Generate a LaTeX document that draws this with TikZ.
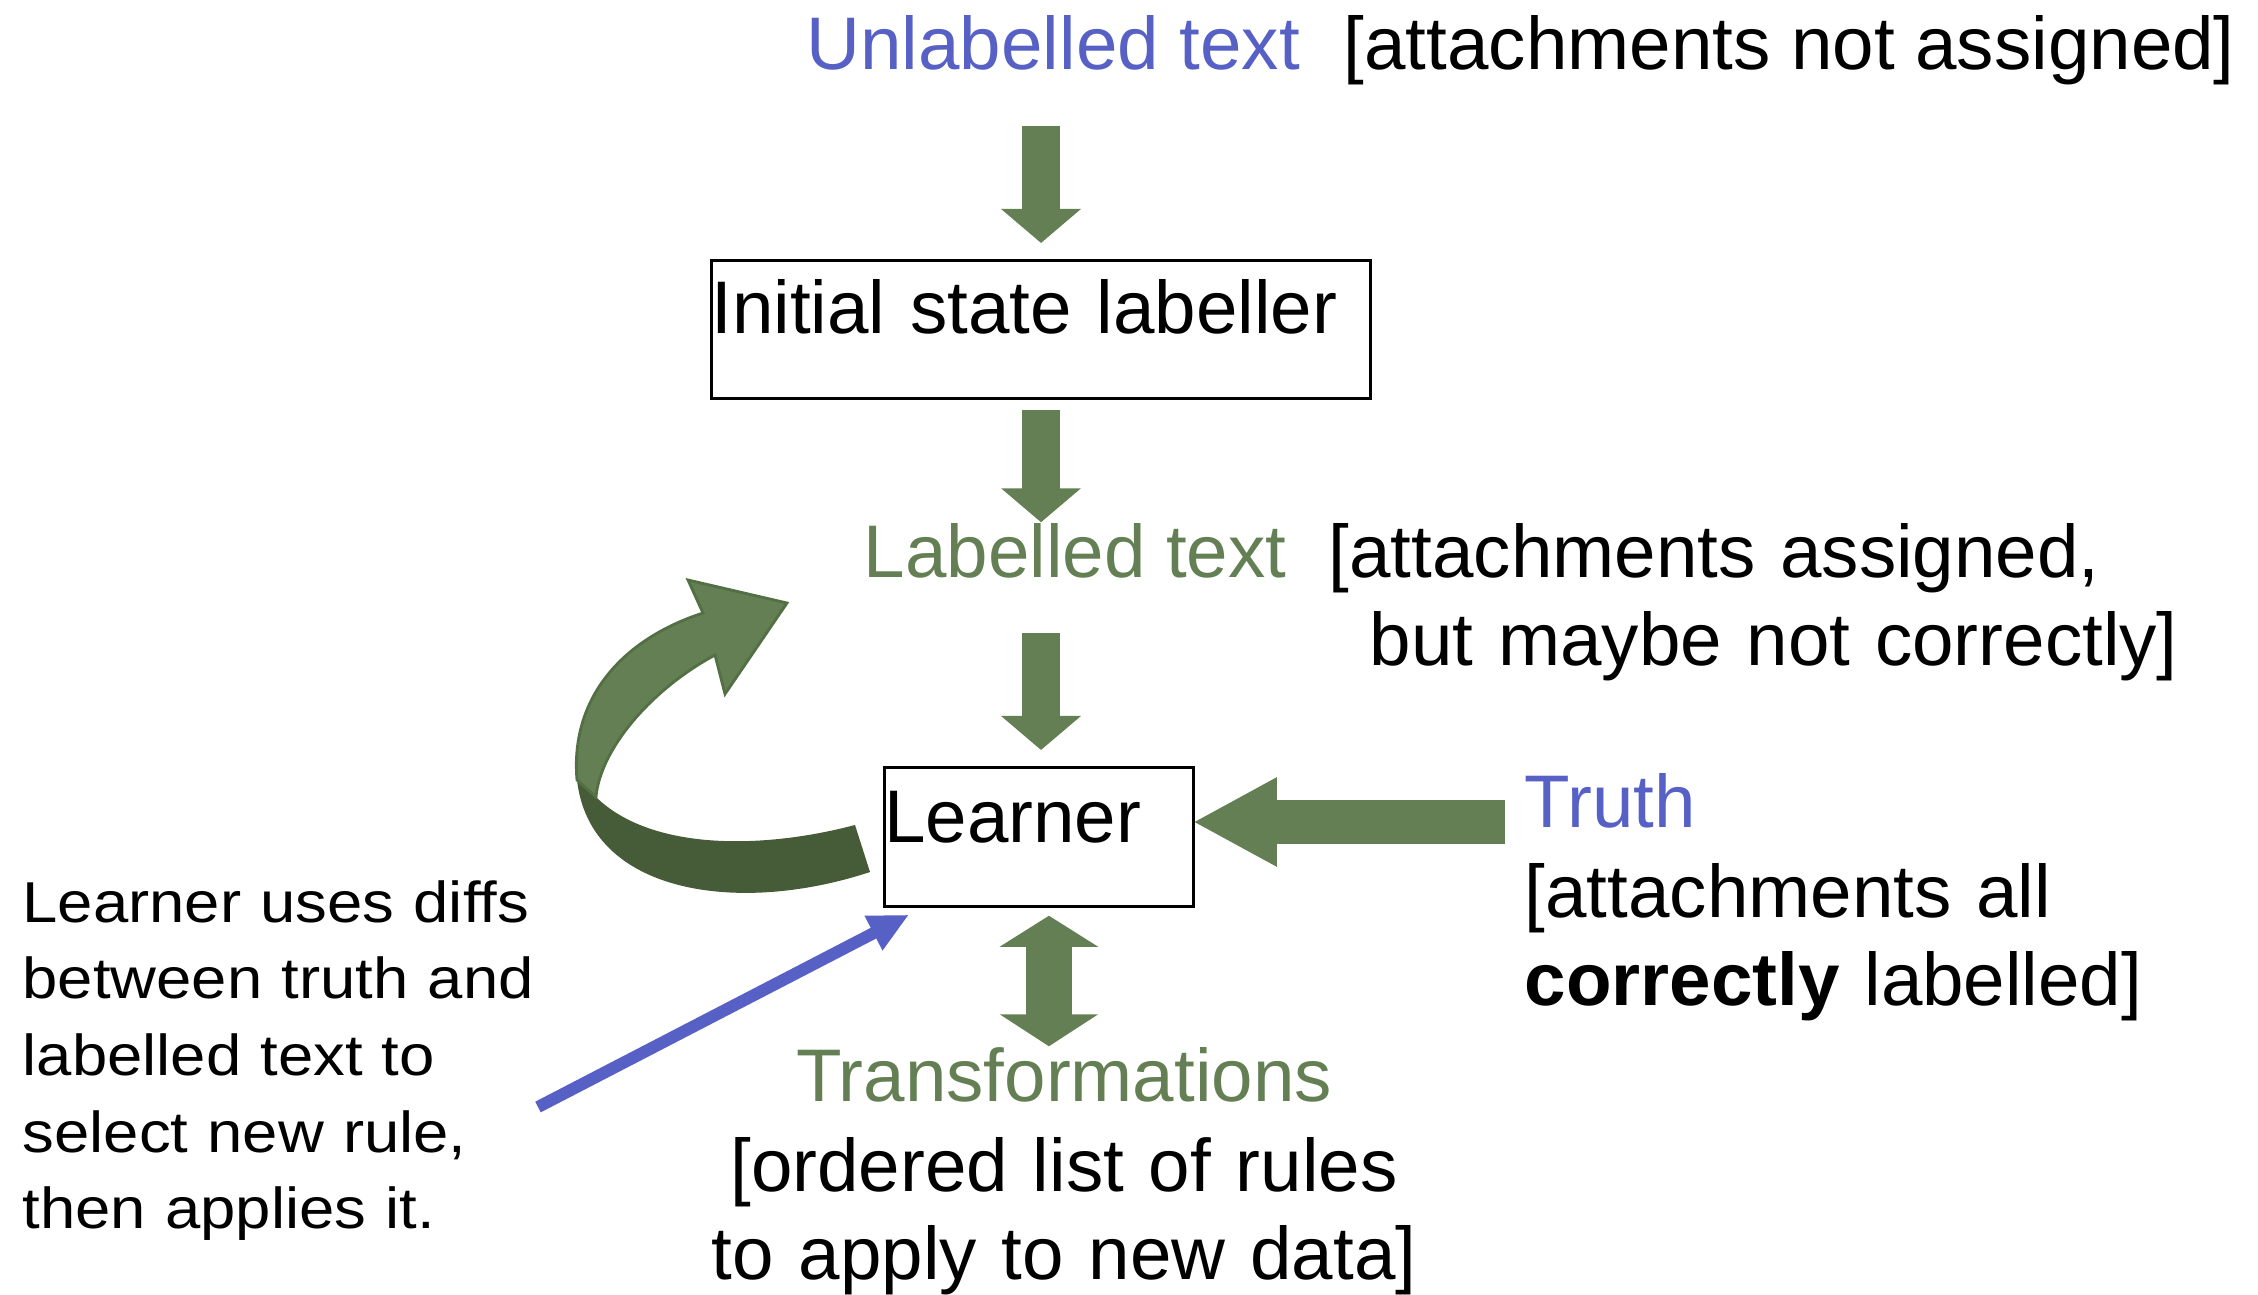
\documentclass[tikz,border=0pt]{standalone}
\usepackage{fontspec}
\setmainfont{Liberation Sans}
\newfontfamily\notefont{Liberation Sans}[FakeStretch=1.1]
\usetikzlibrary{arrows.meta}
\definecolor{tagblue}{RGB}{87,96,197}
\definecolor{arrowgreen}{RGB}{99,127,83}
\definecolor{backgreen}{RGB}{70,92,56}
\definecolor{edgegreen}{RGB}{82,112,67}
\newcommand{\bigtext}{\fontsize{21.2}{25.3}\selectfont}
\newcommand{\notetext}{\notefont\fontsize{16.4}{21.8}\selectfont}

\begin{document}
\begin{tikzpicture}[x=0.01cm, y=-0.01cm]

    \tikzset{
      txt/.style={
        inner sep=0pt,
        anchor=base west,
        font=\bigtext,
      },
      stagebox/.style={
        draw,
        line width=0.75pt,
        inner sep=0pt,
        anchor=north west,
        align=left,
        font=\bigtext,
      },
      downarrow/.style={
        arrowgreen,
        line width=0.38cm,
        -{Triangle[length=0.34cm, width=0.78cm]},
      },
      bothwaysarrow/.style={
        arrowgreen,
        line width=0.46cm,
        {Triangle[length=0.31cm, width=0.97cm]}-{Triangle[length=0.32cm, width=0.97cm]},
      },
      trutharrow/.style={
        arrowgreen,
        line width=0.43cm,
        -{Triangle[length=0.84cm, width=0.83cm]},
      },
      notearrow/.style={
        tagblue,
        line width=0.12cm,
        -{Triangle[length=0.40cm, width=0.36cm]},
      },
    }
    \useasboundingbox (0,0) rectangle (2258,1294);

    % texts
    \node[txt, tagblue] (unl) at (806,70) {Unlabelled text};
    \node[txt] (unlnote) at (1343,70) {[attachments not assigned]};
    \node[txt, arrowgreen] (lab) at (863,577) {Labelled text};
    \node[txt, align=left, text width=9cm] (labnote) at (1328,577) {[attachments assigned,\\\hspace*{0.41cm}but maybe not correctly]};
    \node[txt, tagblue] (truth) at (1524,827) {Truth};
    \node[txt, align=left, text width=7.2cm] (truthnote) at (1524,917) {[attachments all\\\textbf{correctly} labelled]};
    \node[txt, anchor=base, arrowgreen] (trans) at (1064,1101) {Transformations};
    \node[txt, anchor=base, align=center, text width=8cm] (transnote) at (1064,1191) {[ordered list of rules\\to apply to new data]};
    \node[txt, align=left, text width=7cm, font=\notetext] (note) at (22,922) {Learner uses diffs\\between truth and\\labelled text to\\select new rule,\\then applies it.};

    % boxes
    \node[stagebox, text width=6.59cm, text height=0.73cm, text depth=0.65cm] (init) at (710,259) {Initial state labeller};
    \node[stagebox, text width=3.09cm, text height=0.75cm, text depth=0.64cm] (lrn) at (883,766) {Learner};

    % arrows
    \draw[downarrow, shorten <=0.55cm] (init.north |- unl.south) -- ([yshift=0.16cm]init.north);
    \draw[downarrow, shorten <=0.10cm] (init.south) -- (init.south |- lab.north);
    \draw[downarrow, shorten <=0.55cm] (init.south |- lab.south) -- ([yshift=0.16cm]lrn.north -| init.south);
    \draw[bothwaysarrow] ([xshift=0.1cm, yshift=-0.08cm]lrn.south) -- ([xshift=0.1cm]lrn.south |- trans.north);
    \draw[trutharrow] ([shift={(-0.19cm,0.05cm)}]truth.base west) -- ([shift={(-0.02cm,0.05cm)}]truth.base west -| lrn.east);
    \coordinate (notetail) at (538,1107);
    \draw[notearrow] (notetail) -- ([shift={(0.26cm,-0.07cm)}]lrn.south west);

    % curved arrow, back side and front side
    \fill[backgreen] (855,825) .. controls (760,850) and (650,850) .. (596,797) -- (577,780) .. controls (590,895) and (740,915) .. (870,872) -- cycle;
    \filldraw[fill=arrowgreen, draw=edgegreen, line width=0.8pt] (577,780) .. controls (570,700) and (620,640) .. (703,613) -- (688,580) -- (787,603) -- (725,694) -- (715,655) .. controls (650,690) and (600,750) .. (596,797) -- cycle;

\end{tikzpicture}
\end{document}
